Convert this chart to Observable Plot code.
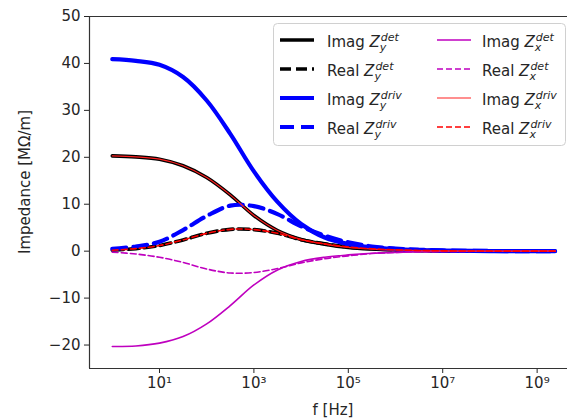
<!DOCTYPE html>
<html><head><meta charset="utf-8">
<script src="https://cdn.jsdelivr.net/npm/d3@7"></script>
<script src="https://cdn.jsdelivr.net/npm/@observablehq/plot@0.6"></script>
<style>
body{margin:0;background:#fff;}
#chart{width:567px;height:420px;overflow:hidden;}
#chart svg{font-family:"DejaVu Sans",sans-serif;}
</style></head><body><div id="chart"></div>
<script>
// frequencies [Hz]
const freq = [1, 3.16, 10, 31.6, 100, 316, 1e3, 3162, 1e4, 31623, 1e5, 316228, 1e6, 3162278, 1e7, 1e8, 1e9, 2.4e9];
// impedances [MΩ/m]
const imagYDet  = [20.3, 20.1, 19.6, 18.2, 15.7, 12.0, 7.6, 4.4, 2.5, 1.5, 0.8, 0.45, 0.25, 0.12, 0.06, 0.02, 0.0, 0.0];
const realYDet  = [0.2, 0.55, 1.2, 2.4, 3.8, 4.65, 4.6, 3.8, 2.45, 1.55, 0.9, 0.5, 0.28, 0.15, 0.07, 0.02, 0.0, 0.0];
const imagYDriv = [40.9, 40.55, 39.7, 37.1, 32.1, 25.0, 17.0, 10.5, 5.8, 2.9, 1.5, 0.8, 0.45, 0.25, 0.12, 0.03, 0.01, 0.0];
const realYDriv = [0.5, 1.0, 2.0, 4.5, 7.5, 9.7, 9.6, 7.9, 5.3, 3.3, 1.9, 1.0, 0.55, 0.3, 0.15, 0.04, 0.01, 0.0];
const imagXDet  = [-20.3, -20.2, -19.6, -18.2, -15.5, -11.6, -7.2, -4.0, -2.2, -1.3, -0.8, -0.45, -0.25, -0.12, -0.06, -0.02, 0.0, 0.0];
const realXDet  = [-0.2, -0.6, -1.3, -2.4, -3.8, -4.65, -4.55, -3.7, -2.5, -1.6, -1.0, -0.5, -0.28, -0.15, -0.07, -0.02, 0.0, 0.0];
const imagXDriv = [20.3, 20.1, 19.6, 18.2, 15.7, 12.0, 7.6, 4.4, 2.5, 1.5, 0.8, 0.45, 0.25, 0.12, 0.06, 0.02, 0.0, 0.0];
const realXDriv = [0.2, 0.55, 1.2, 2.4, 3.8, 4.65, 4.6, 3.8, 2.45, 1.55, 0.9, 0.5, 0.28, 0.15, 0.07, 0.02, 0.0, 0.0];

const xTicks = [1e1, 1e3, 1e5, 1e7, 1e9];
const xTickLabels = ["10¹", "10³", "10⁵", "10⁷", "10⁹"];
const yTicks = [-20, -10, 0, 10, 20, 30, 40, 50];
const xDomain = [0.329, 4.4e9];
const yDomain = [-25, 50];

const series = [
  {kind: "Imag", sub: "y", sup: "det",  values: imagYDet,  color: "#000000", w: 3.6, dash: null},
  {kind: "Real", sub: "y", sup: "det",  values: realYDet,  color: "#000000", w: 3.6, dash: "11,5"},
  {kind: "Imag", sub: "y", sup: "driv", values: imagYDriv, color: "#0000ff", w: 4.2, dash: null},
  {kind: "Real", sub: "y", sup: "driv", values: realYDriv, color: "#0000ff", w: 4.2, dash: "14,7"},
  {kind: "Imag", sub: "x", sup: "det",  values: imagXDet,  color: "#bf00bf", w: 1.6, dash: null},
  {kind: "Real", sub: "x", sup: "det",  values: realXDet,  color: "#bf00bf", w: 1.6, dash: "6,3"},
  {kind: "Imag", sub: "x", sup: "driv", values: imagXDriv, color: "#ff2020", w: 1.2, dash: null},
  {kind: "Real", sub: "x", sup: "driv", values: realXDriv, color: "#ff0000", w: 1.6, dash: "6,3"}
];

const lineMarks = series.map(s => Plot.line(freq.map((f, j) => ({f, v: s.values[j]})), {
  x: "f", y: "v", stroke: s.color, strokeWidth: s.w, strokeDasharray: s.dash, curve: "catmull-rom"
}));

const chart = Plot.plot({
  width: 567, height: 420,
  marginLeft: 89, marginRight: 0, marginTop: 16, marginBottom: 52,
  style: {fontFamily: "DejaVu Sans, sans-serif", fontSize: "15px", color: "#262626", background: "#fff"},
  x: {type: "log", domain: xDomain, ticks: xTicks, tickFormat: (d) => xTickLabels[xTicks.indexOf(d)], tickSize: 5, tickPadding: 4, label: null},
  y: {domain: yDomain, ticks: yTicks, tickSize: 5, tickPadding: 4, label: null},
  marks: [
    ...lineMarks,
    Plot.ruleX([xDomain[0]], {stroke: "#333", strokeWidth: 1.2}),
    Plot.ruleY([yDomain[0]], {stroke: "#333", strokeWidth: 1.2}),
    Plot.ruleY([yDomain[1]], {stroke: "#333", strokeWidth: 1.2})
  ]
});
document.getElementById("chart").appendChild(chart);

const svg = d3.select(chart);
// axis labels
svg.append("text").attr("transform", "translate(25,182) rotate(-90)")
  .attr("text-anchor", "middle").attr("dominant-baseline", "middle")
  .attr("font-size", 15).attr("fill", "#262626").text("Impedance [MΩ/m]");
svg.append("text").attr("x", 333).attr("y", 415)
  .attr("text-anchor", "middle").attr("font-size", 15).attr("fill", "#262626").text("f [Hz]");

// legend
const lg = svg.append("g").attr("text-anchor", "start");
lg.append("rect").attr("x", 273.5).attr("y", 23.5).attr("width", 292).attr("height", 122)
  .attr("rx", 4).attr("fill", "#fff").attr("fill-opacity", 0.85).attr("stroke", "#d0d0d0");
series.forEach((s, i) => {
  const col = Math.floor(i / 4), row = i % 4;
  const hy = 40 + row * 29;
  const hx = col === 0 ? 280 : 437;
  const tx = col === 0 ? 327 : 482;
  lg.append("line").attr("x1", hx).attr("x2", hx + 34).attr("y1", hy).attr("y2", hy)
    .attr("stroke", s.color).attr("stroke-width", s.w).attr("stroke-dasharray", s.dash);
  const t = lg.append("text").attr("text-anchor", "start").attr("x", tx).attr("y", hy + 6.5).attr("font-size", 15).attr("fill", "#262626");
  t.append("tspan").text(s.kind + " ");
  t.append("tspan").attr("font-style", "italic").text("Z");
  const w = t.node().getComputedTextLength();
  lg.append("text").attr("text-anchor", "start").attr("x", tx + w + 1).attr("y", hy + 1).attr("font-size", 11)
    .attr("font-style", "italic").attr("fill", "#262626").text(s.sup);
  lg.append("text").attr("text-anchor", "start").attr("x", tx + w).attr("y", hy + 11).attr("font-size", 11)
    .attr("font-style", "italic").attr("fill", "#262626").text(s.sub);
});
</script></body></html>
